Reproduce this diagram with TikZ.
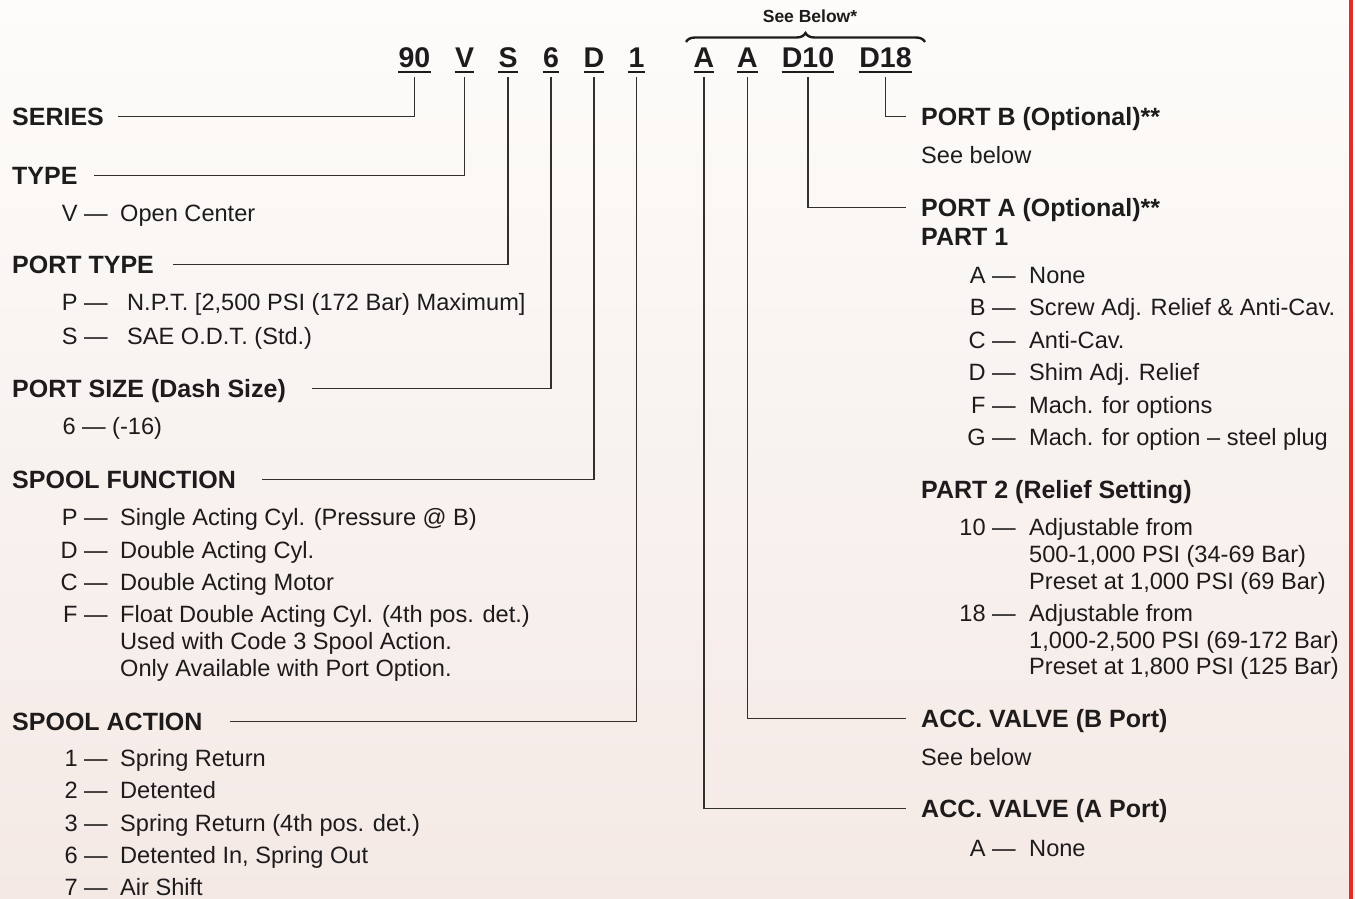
\documentclass[tikz,border=0pt]{standalone}
\usepackage{fontspec}
\setmainfont{Liberation Sans}
\usetikzlibrary{decorations.pathreplacing}
\definecolor{ink}{RGB}{30,27,28}
\definecolor{lin}{RGB}{50,47,47}
\definecolor{bgtop}{RGB}{253,252,250}
\definecolor{bgbot}{RGB}{244,233,229}
\definecolor{redbar}{RGB}{226,45,38}
\tikzset{
  body/.style={font=\fontsize{23.6pt}{28pt}\selectfont, text=ink, inner sep=0pt},
  hdr/.style={font=\fontsize{25pt}{28pt}\selectfont\bfseries, text=ink, inner sep=0pt, text height=17.5pt, text depth=0pt, anchor=base west},
  code/.style={font=\fontsize{28.5pt}{32pt}\selectfont\bfseries, text=ink, inner sep=0pt, text height=20pt, text depth=0pt, anchor=base},
  uline/.style={draw=ink, line width=1.8pt},
  conn/.style={draw=lin, line width=1.3pt},
}
\newcommand\opt[6]{%
  \node[body,anchor=base east] (#1k) at (#2,#4) {#5 —};
  \node[body,anchor=base west] (#1t) at (#3,#4) {#6};}
\newcommand\cont[4]{\node[body,anchor=base west] (#1) at (#2,#3) {#4};}
\begin{document}
\begin{tikzpicture}[x=1pt,y=-1pt]
\useasboundingbox (0,0) rectangle (1355,899);
\shade[top color=bgtop, bottom color=bgbot] (0,0) rectangle (1355,899);
\fill[redbar] (1348.5,0) rectangle (1352.5,899);

% code line
\node[code] (c90) at (414.5,68) {90};
\node[code] (cV) at (464.5,68) {V};
\node[code] (cS) at (508,68) {S};
\node[code] (c6) at (551,68) {6};
\node[code] (cD) at (594,68) {D};
\node[code] (c1) at (636.5,68) {1};
\node[code] (cA1) at (704,68) {A};
\node[code] (cA2) at (747.5,68) {A};
\node[code] (cD10) at (808,68) {D10};
\node[code] (cD18) at (885.5,68) {D18};
\foreach \n in {c90,cV,cS,c6,cD,c1,cA1,cA2,cD10,cD18}{
  \draw[uline] ([yshift=-4pt]\n.south west) -- ([yshift=-4pt]\n.south east);
}

% brace
\coordinate (bl) at (686,42);
\coordinate (br) at (925,42);
\draw[draw=ink, line width=2.4pt, decorate, decoration={brace, amplitude=9pt}] (bl) -- (br);
\node[font=\fontsize{17.5pt}{20pt}\selectfont\bfseries, text=ink, inner sep=0pt, anchor=base] (seeb) at (810,23) {See Below*};

% left headers
\node[hdr] (series) at (12,125.5) {SERIES};
\node[hdr] (type) at (12,184.5) {TYPE};
\node[hdr] (ptype) at (12,273.5) {PORT TYPE};
\node[hdr] (psize) at (12,397) {PORT SIZE (Dash Size)};
\node[hdr] (sfunc) at (12,488) {SPOOL FUNCTION};
\node[hdr] (sact) at (12,730) {SPOOL ACTION};

\opt{tv}{108}{120}{221}{V}{Open Center}
\opt{pp}{108}{127}{310.5}{P}{N.P.T. [2,500 PSI (172 Bar) Maximum]}
\opt{ps}{108}{127}{344}{S}{SAE O.D.T. (Std.)}
\opt{s6}{106}{112}{434.5}{6}{(-16)}
\opt{fp}{108}{120}{525.5}{P}{Single Acting Cyl. (Pressure @ B)}
\opt{fd}{108}{120}{558}{D}{Double Acting Cyl.}
\opt{fc}{108}{120}{590}{C}{Double Acting Motor}
\opt{ff}{108}{120}{622.5}{F}{Float Double Acting Cyl. (4th pos. det.)}
\cont{ff2}{120}{649.5}{Used with Code 3 Spool Action.}
\cont{ff3}{120}{676}{Only Available with Port Option.}
\opt{a1}{108}{120}{766}{1}{Spring Return}
\opt{a2}{108}{120}{798.5}{2}{Detented}
\opt{a3}{108}{120}{831}{3}{Spring Return (4th pos. det.)}
\opt{a6}{108}{120}{863.5}{6}{Detented In, Spring Out}
\opt{a7}{108}{120}{895}{7}{Air Shift}

% right headers
\node[hdr] (portb) at (921,125.5) {PORT B (Optional)**};
\cont{portbs}{921}{163}{See below}
\node[hdr] (porta) at (921,216.5) {PORT A (Optional)**};
\node[hdr] (part1) at (921,245.5) {PART 1};
\opt{pa}{1016}{1029}{283}{A}{None}
\opt{pb}{1016}{1029}{315.5}{B}{Screw Adj. Relief \& Anti-Cav.}
\opt{pc}{1016}{1029}{348}{C}{Anti-Cav.}
\opt{pd}{1016}{1029}{380.5}{D}{Shim Adj. Relief}
\opt{pf}{1016}{1029}{413}{F}{Mach. for options}
\opt{pg}{1016}{1029}{445.5}{G}{Mach. for option – steel plug}
\node[hdr] (part2) at (921,498) {PART 2 (Relief Setting)};
\opt{r10}{1016}{1029}{535}{10}{Adjustable from}
\cont{r10b}{1029}{562.5}{500-1,000 PSI (34-69 Bar)}
\cont{r10c}{1029}{589}{Preset at 1,000 PSI (69 Bar)}
\opt{r18}{1016}{1029}{621.5}{18}{Adjustable from}
\cont{r18b}{1029}{648}{1,000-2,500 PSI (69-172 Bar)}
\cont{r18c}{1029}{674.5}{Preset at 1,800 PSI (125 Bar)}
\node[hdr] (accb) at (921,727.5) {ACC. VALVE (B Port)};
\cont{accbs}{921}{765}{See below}
\node[hdr] (acca) at (921,817.5) {ACC. VALVE (A Port)};
\opt{aa}{1016}{1029}{856}{A}{None}

% connectors
\draw[conn] ([yshift=-9pt]c90.south) |- ([xshift=14pt]series.east);
\draw[conn] ([yshift=-9pt]cV.south) |- ([xshift=16pt]type.east);
\draw[conn] ([yshift=-9pt]cS.south) |- ([xshift=19pt]ptype.east);
\draw[conn] ([yshift=-9pt]c6.south) |- ([xshift=26pt]psize.east);
\draw[conn] ([yshift=-9pt]cD.south) |- ([xshift=26pt]sfunc.east);
\draw[conn] ([yshift=-9pt]c1.south) |- ([xshift=27pt]sact.east);
\draw[conn] ([yshift=-9pt]cA1.south) |- ([xshift=-15pt]acca.west);
\draw[conn] ([yshift=-9pt]cA2.south) |- ([xshift=-15pt]accb.west);
\draw[conn] ([yshift=-9pt]cD10.south) |- ([xshift=-15pt]porta.west);
\draw[conn] ([yshift=-9pt]cD18.south) |- ([xshift=-15pt]portb.west);
\end{tikzpicture}
\end{document}
